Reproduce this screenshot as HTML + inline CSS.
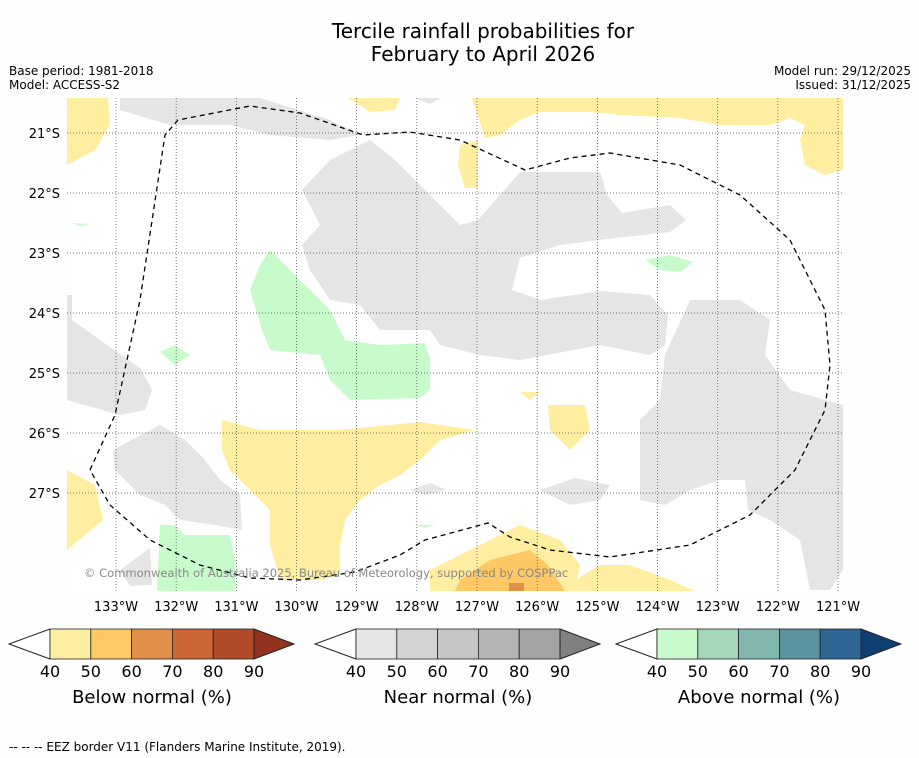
<!DOCTYPE html>
<html><head><meta charset="utf-8"><style>
body{margin:0;background:#fff;}
svg{display:block;font-family:"DejaVu Sans","Liberation Sans",sans-serif;}
</style></head><body>
<svg id="s" width="919" height="758" viewBox="0 0 919 758">
<rect width="919" height="758" fill="#fefefe"/>
<text x="483" y="38" font-size="20" text-anchor="middle">Tercile rainfall probabilities for</text>
<text x="483" y="61" font-size="20" text-anchor="middle">February to April 2026</text>
<text x="9" y="75" font-size="12">Base period: 1981-2018</text>
<text x="9" y="89" font-size="12">Model: ACCESS-S2</text>
<text x="911" y="75" font-size="12" text-anchor="end">Model run: 29/12/2025</text>
<text x="911" y="89" font-size="12" text-anchor="end">Issued: 31/12/2025</text>
<defs><clipPath id="mc"><rect x="67" y="98" width="776" height="493"/></clipPath></defs>
<g clip-path="url(#mc)">
<rect x="67" y="98" width="776" height="493" fill="#fff"/>
<g fill="#e5e5e5">
<polygon points="302,190 330,160 370,140 395,160 410,175 440,205 460,225 478,220 500,195 520,172 600,172 607,195 622,213 670,205 686,220 670,232 615,238 560,245 520,258 512,290 540,300 600,291 650,295 668,315 665,345 650,355 600,345 520,360 480,355 440,345 430,330 380,330 360,305 330,300 310,270 302,245 320,225"/>
<polygon points="640,420 660,400 665,355 690,300 740,300 770,320 765,355 790,390 843,405 843,570 830,590 810,590 800,540 770,520 748,510 745,480 720,480 690,490 665,505 640,500"/>
<polygon points="120,98 260,98 330,120 360,135 330,140 270,135 230,125 170,125 120,110"/>
<polygon points="415,98 440,98 430,104"/>
<polygon points="67,295 72,295 72,320 100,340 140,368 152,390 145,410 120,415 67,400"/>
<polygon points="113,450 160,425 185,440 205,460 220,480 240,495 242,530 215,525 180,520 165,505 140,495 115,470"/>
<polygon points="410,490 430,483 447,490 425,495"/>
<polygon points="540,490 575,478 610,485 600,500 570,505"/>
<polygon points="120,570 150,548 152,585 130,586"/>
</g>
<g fill="#ffeda0">
<polygon points="67,98 108,98 110,125 95,150 67,165"/>
<polygon points="348,98 400,98 395,110 370,112"/>
<polygon points="472,98 843,98 843,170 825,175 805,165 800,140 805,125 790,118 770,125 720,125 680,118 620,115 590,112 540,112 520,120 500,135 485,138"/>
<polygon points="460,145 478,140 478,188 465,188 458,165"/>
<polygon points="222,420 260,430 340,430 420,422 475,430 440,440 420,460 400,475 380,485 360,500 345,520 340,545 340,575 320,580 280,580 270,545 270,510 250,490 230,470 222,450"/>
<polygon points="548,405 585,405 590,430 570,450 550,430"/>
<polygon points="520,392 540,392 530,400"/>
<polygon points="67,470 95,485 103,520 67,550"/>
<polygon points="430,570 470,550 520,525 560,540 580,565 575,591 430,591"/>
<polygon points="575,580 600,565 630,565 670,580 695,591 570,591"/>
</g>
<polygon fill="#fec965" points="460,580 490,560 530,550 548,565 565,591 455,591"/>
<rect x="509" y="583" width="15" height="8" fill="#e09048"/>
<g fill="#c7fbcc">
<polygon points="250,290 260,265 270,250 300,280 330,310 345,340 380,345 425,343 430,360 430,390 420,398 350,400 330,380 320,355 270,350 262,330"/>
<polygon points="160,352 175,345 190,355 175,365"/>
<polygon points="645,260 670,255 693,262 680,272 660,270"/>
<polygon points="157,591 160,525 175,525 185,535 230,535 235,560 235,591"/>
<polygon points="415,525 435,525 425,528"/>
<polygon points="72,223 90,224 80,226"/>
</g>
<g id="grid" stroke="#444" stroke-width="0.7" stroke-dasharray="1,2"></g>
<polyline fill="none" stroke="#000" stroke-width="1.3" stroke-dasharray="5,4" points="90,470 115,415 140,300 165,135 178,120 250,106 300,113 363,135 410,132 460,140 525,170 570,158 610,153 680,165 740,195 790,240 825,310 830,365 825,410 795,470 750,515 690,545 610,557 550,550 510,537 488,523 425,540 400,555 355,572 300,580 250,578 200,565 150,540 110,505 90,470"/>
<text x="84" y="577" font-size="11.5" fill="#888">© Commonwealth of Australia 2025, Bureau of Meteorology, supported by COSPPac</text>
</g>
<g id="ticks" font-size="13"></g>
<g id="cbars"></g>
<text x="9" y="751" font-size="12">--  --  -- EEZ border V11 (Flanders Marine Institute, 2019).</text>
</svg>
<script>
const lonTicks=[133,132,131,130,129,128,127,126,125,124,123,122,121];
const latTicks=[21,22,23,24,25,26,27];
const cbTicks=[40,50,60,70,80,90];
const belowColors=["#ffeda0","#fec965","#e09048","#cd6535","#b04a28","#93321e"];
const nearColors=["#e5e5e5","#d4d4d4","#c5c5c5","#b4b4b4","#a3a3a3","#808080"];
const aboveColors=["#c7fbcc","#a5d8bb","#82b7b0","#5b93a0","#2f6696","#0f3e73"];
const cbTitles=["Below normal (%)","Near normal (%)","Above normal (%)"];
const NS="http://www.w3.org/2000/svg";
const xLon=l=>116+(133-l)*60.17;
const yLat=l=>133+(l-21)*60;
function mk(t,a,p){const e=document.createElementNS(NS,t);for(const k in a)e.setAttribute(k,a[k]);p.appendChild(e);return e;}
const g=document.getElementById('grid'),tk=document.getElementById('ticks');
lonTicks.forEach(l=>{const x=xLon(l);
 const ln=mk('line',{x1:x,x2:x,y1:98,y2:591},g);
 
 
 const t=mk('text',{x:x,y:611,'text-anchor':'middle'},tk);t.textContent=l+'°W';
 
 });
latTicks.forEach(l=>{const y=yLat(l);
 const ln=mk('line',{x1:67,x2:843,y1:y,y2:y},g);
 
 
 const t=mk('text',{x:60,y:y+5,'text-anchor':'end'},tk);t.textContent=l+'°S';
 
 });
const cb=document.getElementById('cbars');
[[50,belowColors],[356,nearColors],[657,aboveColors]].forEach(([x0,cols],i)=>{
 const w=40.8,y0=629,h=30;
 const lt=mk('polygon',{points:`${x0},${y0} ${x0-41},${y0+h/2} ${x0},${y0+h}`,fill:'#fff',stroke:'#222','stroke-width':1},cb);
 
 
 for(let j=0;j<5;j++){const r=mk('rect',{x:x0+j*w,y:y0,width:w,height:h,fill:cols[j],stroke:'#222','stroke-width':0.8},cb);
  
  }
 const xe=x0+5*w;
 const rt=mk('polygon',{points:`${xe},${y0} ${xe+40},${y0+h/2} ${xe},${y0+h}`,fill:cols[5],stroke:'#222','stroke-width':1},cb);
 
 
 cbTicks.forEach((v,j)=>{const t=mk('text',{x:x0+j*w,y:677,'font-size':16,'text-anchor':'middle'},cb);t.textContent=v;
  
  });
 const tt=mk('text',{x:x0+2.5*w,y:703,'font-size':18,'text-anchor':'middle'},cb);tt.textContent=cbTitles[i];
 
 
});
</script>
</body></html>
